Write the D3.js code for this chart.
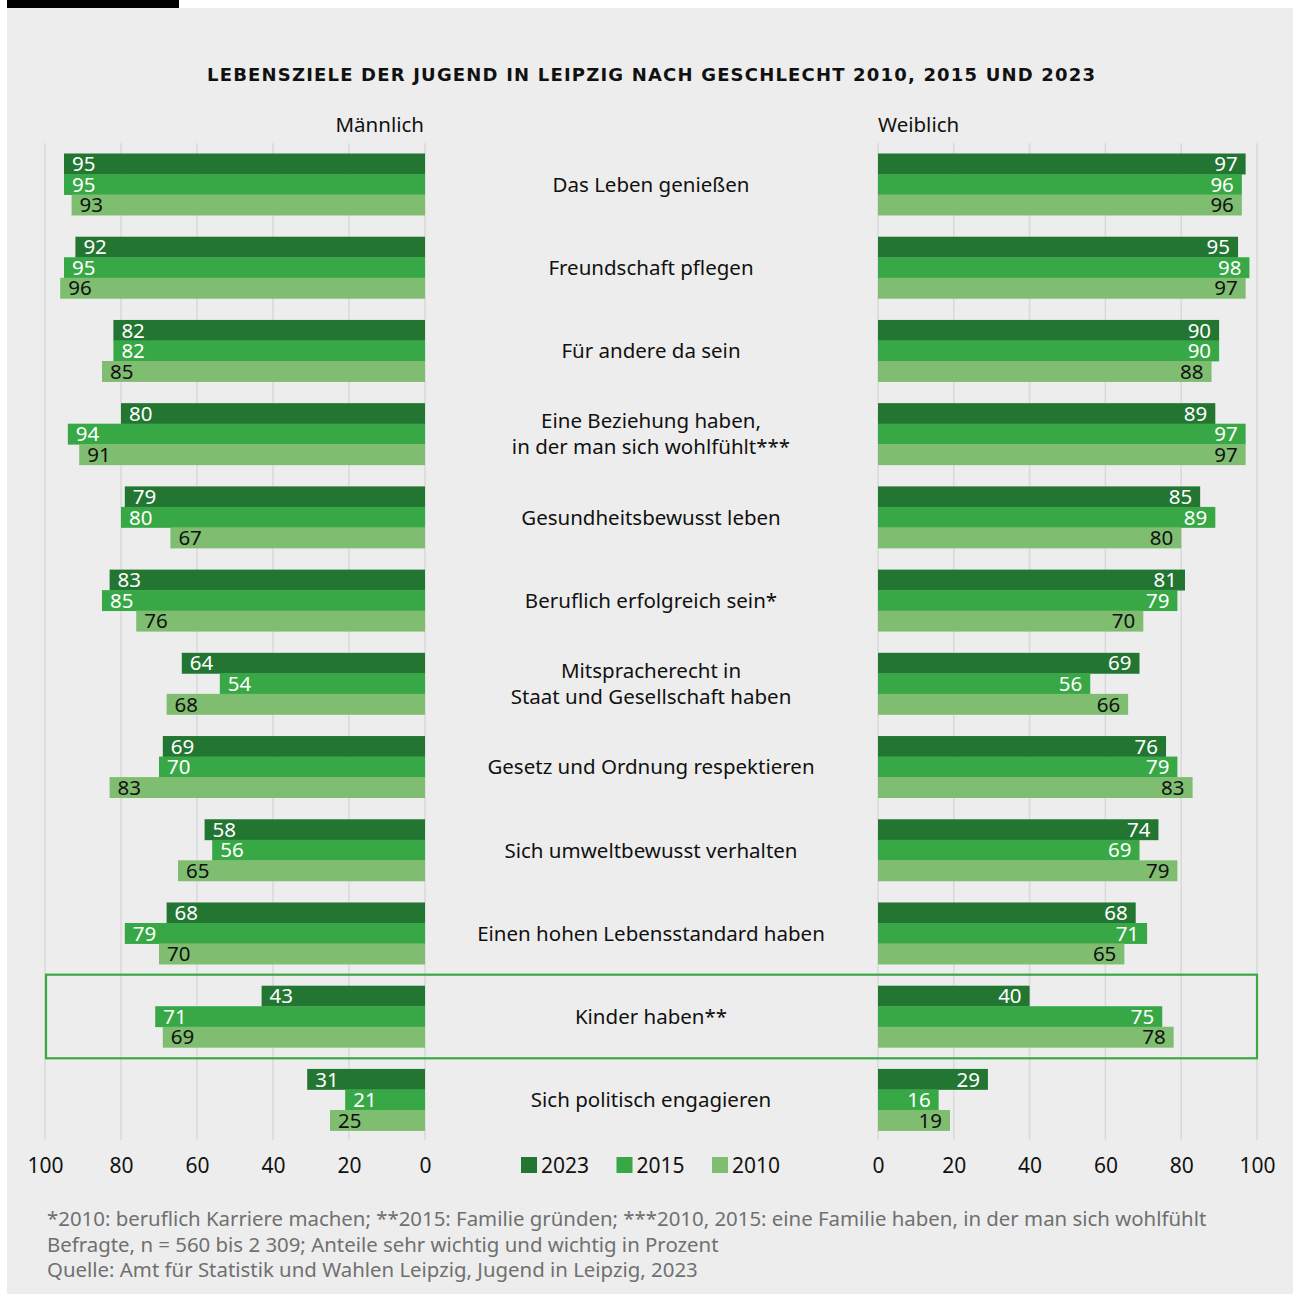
<!DOCTYPE html>
<html lang="de">
<head>
<meta charset="utf-8">
<script src="https://cdn.jsdelivr.net/npm/d3@7"></script>
<style>
  html, body { margin: 0; padding: 0; background: #ffffff; }
  svg { display: block; font-family: "Noto Sans", "Open Sans", sans-serif; }
</style>
</head>
<body>
<script>
// Lebensziele der Jugend in Leipzig – Anteile "sehr wichtig" und "wichtig" in Prozent
const categories = [
  ["Das Leben genießen"],
  ["Freundschaft pflegen"],
  ["Für andere da sein"],
  ["Eine Beziehung haben,", "in der man sich wohlfühlt***"],
  ["Gesundheitsbewusst leben"],
  ["Beruflich erfolgreich sein*"],
  ["Mitspracherecht in", "Staat und Gesellschaft haben"],
  ["Gesetz und Ordnung respektieren"],
  ["Sich umweltbewusst verhalten"],
  ["Einen hohen Lebensstandard haben"],
  ["Kinder haben**"],
  ["Sich politisch engagieren"]
];
const years = ["2023", "2015", "2010"];

// Männlich
const male2023 = [95, 92, 82, 80, 79, 83, 64, 69, 58, 68, 43, 31];
const male2015 = [95, 95, 82, 94, 80, 85, 54, 70, 56, 79, 71, 21];
const male2010 = [93, 96, 85, 91, 67, 76, 68, 83, 65, 70, 69, 25];

// Weiblich
const female2023 = [97, 95, 90, 89, 85, 81, 69, 76, 74, 68, 40, 29];
const female2015 = [96, 98, 90, 97, 89, 79, 56, 79, 69, 71, 75, 16];
const female2010 = [96, 97, 88, 97, 80, 70, 66, 83, 79, 65, 78, 19];

const tickValues = [0, 20, 40, 60, 80, 100];
const highlighted = "Kinder haben**";

const title = "LEBENSZIELE DER JUGEND IN LEIPZIG NACH GESCHLECHT 2010, 2015 UND 2023";
const footnotes = [
  "*2010: beruflich Karriere machen; **2015: Familie gründen; ***2010, 2015: eine Familie haben, in der man sich wohlfühlt",
  "Befragte, n = 560 bis 2 309; Anteile sehr wichtig und wichtig in Prozent",
  "Quelle: Amt für Statistik und Wahlen Leipzig, Jugend in Leipzig, 2023"
];

const W = 1293, H = 1294;
const colors = { "2023": "#237532", "2015": "#37a845", "2010": "#7fbd70" };
const labelColors = { "2023": "#ffffff", "2015": "#ffffff", "2010": "#111111" };

const maleSeries = { "2023": male2023, "2015": male2015, "2010": male2010 };
const femaleSeries = { "2023": female2023, "2015": female2015, "2010": female2010 };

const svg = d3.select("body").append("svg")
  .attr("width", W).attr("height", H);

// Hintergrund
svg.append("rect").attr("x", 7).attr("y", 8).attr("width", W - 7).attr("height", H - 8).attr("fill", "#ededed");
svg.append("rect").attr("x", 7).attr("y", 0).attr("width", 172).attr("height", 8).attr("fill", "#000000");

// Skalen
const xL = d3.scaleLinear().domain([0, 100]).range([425, 45]);
const xR = d3.scaleLinear().domain([0, 100]).range([878, 1257]);
const catNames = categories.map(c => c.join(" "));
const y = d3.scaleBand().domain(catNames).range([153.5, 1130.5]).paddingInner(0.26).paddingOuter(0);
const yInner = d3.scaleBand().domain(years).range([0, y.bandwidth()]).padding(0);

// Titel
svg.append("text").attr("x", 207).attr("y", 81).attr("text-anchor", "start")
  .style("font-family", "\"DejaVu Sans\", sans-serif")
  .attr("font-size", 18).attr("font-weight", 700).attr("fill", "#111")
  .attr("textLength", 888).attr("lengthAdjust", "spacing")
  .text(title);

svg.append("text").attr("x", 424).attr("y", 132).attr("text-anchor", "end")
  .attr("font-size", 20.5).attr("fill", "#111").text("Männlich");
svg.append("text").attr("x", 878).attr("y", 132).attr("text-anchor", "start")
  .attr("font-size", 20.5).attr("fill", "#111").text("Weiblich");

// Gitterlinien
const grid = svg.append("g");
[xL, xR].forEach(sc => {
  grid.selectAll(null).data(tickValues).enter().append("line")
    .attr("x1", d => sc(d)).attr("x2", d => sc(d))
    .attr("y1", 143).attr("y2", 1140)
    .attr("stroke", "#d9d9d9").attr("stroke-width", 1.5);
});

// Hervorhebung
const hy = y(highlighted);
svg.append("rect")
  .attr("x", xL(100) + 1).attr("y", hy - 11)
  .attr("width", xR(100) - xL(100) - 1).attr("height", y.bandwidth() + 22)
  .attr("fill", "none").attr("stroke", "#3aa845").attr("stroke-width", 2.2);

// Balken
function drawSide(series, sc, side) {
  const g = svg.append("g");
  years.forEach(yr => {
    const rows = catNames.map((c, i) => ({ cat: c, v: series[yr][i] }));
    g.selectAll(null).data(rows).enter().append("rect")
      .attr("x", d => side === "left" ? sc(d.v) : sc(0))
      .attr("y", d => y(d.cat) + yInner(yr))
      .attr("width", d => Math.abs(sc(d.v) - sc(0)))
      .attr("height", yInner.bandwidth() + 0.4)
      .attr("fill", colors[yr]);
    g.selectAll(null).data(rows).enter().append("text")
      .attr("x", d => side === "left" ? sc(d.v) + 8 : sc(d.v) - 8)
      .attr("y", d => y(d.cat) + yInner(yr) + yInner.bandwidth() / 2)
      .attr("dy", "0.36em")
      .attr("text-anchor", side === "left" ? "start" : "end")
      .attr("font-size", 20.5).attr("fill", labelColors[yr])
      .text(d => d.v);
  });
}
drawSide(maleSeries, xL, "left");
drawSide(femaleSeries, xR, "right");

// Kategorien
const cat = svg.append("g");
categories.forEach((lines, i) => {
  const cy = y(catNames[i]) + y.bandwidth() / 2;
  const lh = 26;
  const t = cat.append("text").attr("text-anchor", "middle")
    .attr("font-size", 20.5).attr("fill", "#111");
  lines.forEach((ln, j) => {
    t.append("tspan").attr("x", 651)
      .attr("y", cy + 7.5 + (j - (lines.length - 1) / 2) * lh)
      .text(ln);
  });
});

// Achsen
function axis(sc) {
  const g = svg.append("g").attr("transform", "translate(0,1157)")
    .call(d3.axisBottom(sc).tickValues(tickValues).tickSize(0).tickPadding(0).tickFormat(d3.format("d")));
  g.select(".domain").remove();
  g.attr("font-family", null).attr("font-size", null);
  g.selectAll("text").attr("font-size", 21).attr("fill", "#111").attr("dy", "0.75em");
}
axis(xL);
axis(xR);

// Legende
const legend = svg.append("g");
const legendX = d3.scalePoint().domain(years).range([521, 712]);
years.forEach(yr => {
  legend.append("rect").attr("x", legendX(yr)).attr("y", 1157)
    .attr("width", 16).attr("height", 16).attr("fill", colors[yr]);
  legend.append("text").attr("x", legendX(yr) + 20).attr("y", 1173)
    .attr("font-size", 21).attr("fill", "#111").text(yr);
});

// Fußnoten
footnotes.forEach((f, i) => {
  svg.append("text").attr("x", 47).attr("y", 1226 + i * 25.5)
    .attr("font-size", 20.4).attr("fill", "#707070").text(f);
});
</script>
</body>
</html>
